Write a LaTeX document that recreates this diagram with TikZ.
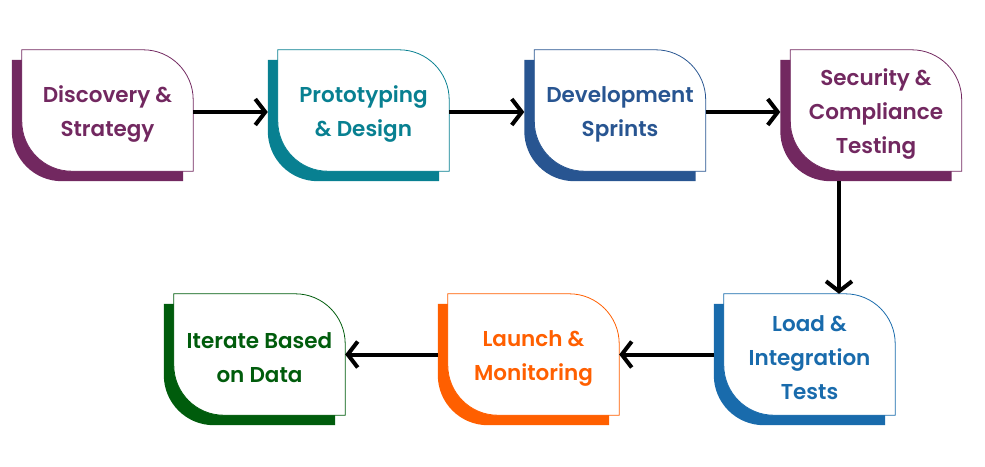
\documentclass[tikz,border=0pt]{standalone}
\usepackage{fontspec}
\setmainfont{Poppins}[BoldFont={* SemiBold}]
\usetikzlibrary{arrows.meta,backgrounds}

\definecolor{plum}{RGB}{114,40,96}
\definecolor{teal}{RGB}{8,128,145}
\definecolor{navy}{RGB}{40,85,145}
\definecolor{ocean}{RGB}{25,107,172}
\definecolor{tangerine}{RGB}{255,95,0}
\definecolor{forest}{RGB}{0,92,12}

% white card with a coloured offset card behind it
\newcommand{\flowcard}[2]{%
  \fill[#2] ([xshift=-10pt,yshift=-10pt]#1.north west) -- ([xshift=-60pt,yshift=-10pt]#1.north east)
    arc[start angle=90,end angle=0,radius=50pt] -- ([xshift=-10pt,yshift=-10pt]#1.south east)
    -- ([xshift=40pt,yshift=-10pt]#1.south west) arc[start angle=270,end angle=180,radius=50pt] -- cycle;
  \filldraw[fill=white,draw=#2,line width=0.8pt] (#1.north west) -- ([xshift=-50pt]#1.north east)
    arc[start angle=90,end angle=0,radius=50pt] -- (#1.south east)
    -- ([xshift=50pt]#1.south west) arc[start angle=270,end angle=180,radius=50pt] -- cycle;
}
% extra room above the first line, pushes the text a little lower
\newcommand{\toproom}{\rule{0pt}{23pt}}

\begin{document}
\begin{tikzpicture}[x=1pt,y=-1pt,
    card/.style={minimum width=171pt, minimum height=121pt, inner sep=0pt, align=center,
      font=\bfseries\fontsize{21.5}{34}\selectfont},
    arr/.style={-{Straight Barb[length=10pt,width=26pt]}, line width=4pt}
]
\useasboundingbox (0,0) rectangle (985,466);

\node[card, text=plum] (p1) at (107.5,110.5) {\toproom Discovery \&\\Strategy};
\node[card, text=teal] (p2) at (363.5,110.5) {\toproom Prototyping\\\& Design};
\node[card, text=navy] (p3) at (620,110.5) {\toproom Development\\Sprints};
\node[card, text=plum] (p4) at (876,110.5) {\toproom Security \&\\Compliance\\Testing};
\node[card, text=ocean] (p5) at (809.5,354.5) {\toproom Load \&\\Integration\\Tests};
\node[card, text=tangerine] (p6) at (533.5,354.5) {\toproom Launch \&\\Monitoring};
\node[card, text=forest] (p7) at (259.5,354.5) {\toproom Iterate Based\\on Data};

\begin{scope}[on background layer]
\flowcard{p1}{plum}
\flowcard{p2}{teal}
\flowcard{p3}{navy}
\flowcard{p4}{plum}
\flowcard{p5}{ocean}
\flowcard{p6}{tangerine}
\flowcard{p7}{forest}
\end{scope}

\draw[arr] ([yshift=-1.5pt]p1.east) -- ([xshift=-10pt,yshift=-1.5pt]p2.west);
\draw[arr] ([yshift=-1.5pt]p2.east) -- ([xshift=-10pt,yshift=-1.5pt]p3.west);
\draw[arr] ([yshift=-1.5pt]p3.east) -- ([xshift=-10pt,yshift=-1.5pt]p4.west);
\draw[arr] ([xshift=-37pt,yshift=-10pt]p4.south) -- ([xshift=-37pt]p4.south |- p5.north);
\draw[arr] ([xshift=-10pt]p5.west) -- (p6.east);
\draw[arr] ([xshift=-10pt]p6.west) -- (p7.east);
\end{tikzpicture}
\end{document}
